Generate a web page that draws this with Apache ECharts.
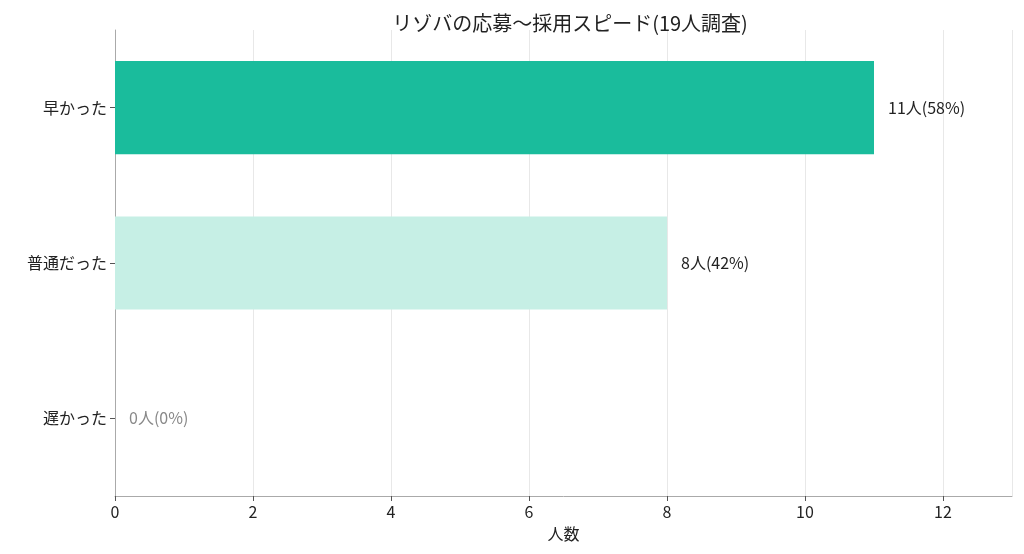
<!DOCTYPE html>
<html><head><meta charset="utf-8">
<script src="https://cdn.jsdelivr.net/npm/echarts@6/dist/echarts.min.js"></script>
<style>html,body{margin:0;padding:0;background:#fff}#c{width:1024px;height:554px}</style>
</head><body><div id="c"></div>
<script>
const categories = ['早かった', '普通だった', '遅かった'];
const values = [11, 8, 0];
const labels = ['11人(58%)', '8人(42%)', '0人(0%)'];
const colors = ['#1abc9c', '#c6efe5', '#e0e0e0'];
const F = '"Noto Sans CJK JP", "Noto Sans", sans-serif';
const chart = echarts.init(document.getElementById('c'));
chart.setOption({
  animation: false,
  title: { text: 'リゾバの応募〜採用スピード(19人調査)', left: 565, top: 8, textAlign: 'center',
    textStyle: { fontFamily: F, fontSize: 20, fontWeight: 'normal', color: '#222' } },
  grid: { left: 115, right: 12, top: 30, bottom: 58 },
  xAxis: { type: 'value', min: 0, max: 13, interval: 2,
    name: '人数', nameLocation: 'middle', nameGap: 30,
    nameTextStyle: { fontFamily: F, fontSize: 16, color: '#222' },
    axisLine: { show: true, lineStyle: { color: '#aaa' } },
    axisTick: { show: true, lineStyle: { color: '#555' } },
    axisLabel: { fontFamily: F, fontSize: 16, color: '#222', showMaxLabel: false },
    splitLine: { show: true, lineStyle: { color: '#e8e8e8' } } },
  yAxis: { type: 'category', data: categories, inverse: true,
    axisLine: { show: true, lineStyle: { color: '#aaa' } },
    axisTick: { show: true, alignWithLabel: true, lineStyle: { color: '#555' } },
    axisLabel: { fontFamily: F, fontSize: 16, color: '#222' } },
  series: [{ type: 'bar', barWidth: '60%',
    data: values.map((v, i) => ({ value: v, itemStyle: { color: colors[i] },
      label: { show: true, position: 'right', distance: 14, formatter: labels[i],
        fontFamily: F, fontSize: 16, color: v === 0 ? '#888' : '#222' } })) }]
});
</script></body></html>
